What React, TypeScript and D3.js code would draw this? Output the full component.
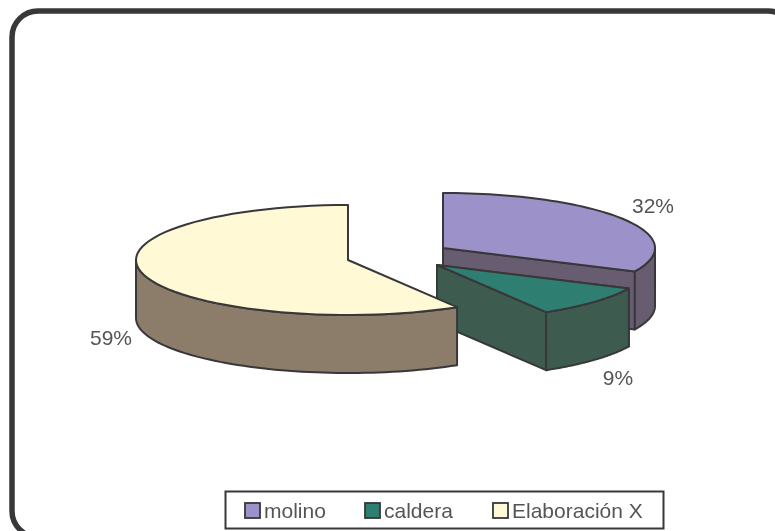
import React from "react";
import * as d3 from "d3";

const categories = ["molino", "caldera", "Elaboración X"];
const shares = [32, 9.4, 58.6];
const topColors = ["#9c91c8", "#2f7f71", "#fff9d5"];
const wallColors = ["#685c70", "#3c5c50", "#8c7b6a"];
const labels = ["32%", "9%", "59%"];
const labelPos: [number, number][] = [[653, 205], [618, 377], [111, 337]];
const centers: [number, number][] = [[443, 248], [437, 265], [348, 260]];
const legendSwatchX = [245, 365, 493];

const RX = 212, RY = 55, DEPTH = 58;
const INK = "#38383a";
const FONT = "'Liberation Sans', Arial, sans-serif";

const arcs = d3.pie<number>().sort(null)(shares);
const pt = (c: [number, number], a: number, dy = 0): [number, number] => [
  c[0] + RX * Math.sin(a),
  c[1] - RY * Math.cos(a) + dy,
];

function ellipsePts(c: [number, number], a0: number, a1: number, dy = 0) {
  const out: [number, number][] = [];
  const n = 64;
  for (let i = 0; i <= n; i++) out.push(pt(c, a0 + ((a1 - a0) * i) / n, dy));
  return out;
}
const line = d3.line();

export default function App() {
  const m = arcs[0], ca = arcs[1], e = arcs[2];
  const cm = centers[0], cc = centers[1], ce = centers[2];
  const rim = Math.PI / 2;

  const mInner = [cm, pt(cm, m.endAngle), pt(cm, m.endAngle, DEPTH), [cm[0], cm[1] + DEPTH]] as [number, number][];
  const mOuter = [...ellipsePts(cm, rim, m.endAngle), ...ellipsePts(cm, m.endAngle, rim, DEPTH)];
  const mTop = [cm, ...ellipsePts(cm, m.startAngle, m.endAngle)];
  const cFar = [cc, pt(cc, ca.startAngle), pt(cc, ca.startAngle, DEPTH), [cc[0], cc[1] + DEPTH]] as [number, number][];
  const cInner = [cc, pt(cc, ca.endAngle), pt(cc, ca.endAngle, DEPTH), [cc[0], cc[1] + DEPTH]] as [number, number][];
  const cOuter = [...ellipsePts(cc, ca.startAngle, ca.endAngle), ...ellipsePts(cc, ca.endAngle, ca.startAngle, DEPTH)];
  const cTop = [cc, ...ellipsePts(cc, ca.startAngle, ca.endAngle)];
  const eOuter = [...ellipsePts(ce, e.startAngle, Math.PI * 1.5), ...ellipsePts(ce, Math.PI * 1.5, e.startAngle, DEPTH)];
  const eTop = [ce, ...ellipsePts(ce, e.startAngle, e.endAngle)];

  const poly = (pts: [number, number][], fill: string, key: string) => (
    <path key={key} d={line(pts)! + "Z"} fill={fill} stroke={INK} strokeWidth={2} strokeLinejoin="round" />
  );

  return (
    <svg width={775} height={531} style={{ position: "fixed", left: 0, top: 0, background: "#fff" }}>
      <defs>
        <filter id="soft" x="-5%" y="-5%" width="110%" height="110%">
          <feGaussianBlur stdDeviation="0.6" />
        </filter>
      </defs>
      <g filter="url(#soft)">
        <rect x={12} y={11} width={782} height={526} rx={26} fill="#fff" stroke={INK} strokeWidth={5.5} />
        {poly(mInner, wallColors[0], "mi")}
        {poly(mOuter, wallColors[0], "mo")}
        {poly(mTop, topColors[0], "mt")}
        {poly(cFar, wallColors[1], "cf")}
        {poly(cInner, wallColors[1], "ci")}
        {poly(cOuter, wallColors[1], "co")}
        {poly(cTop, topColors[1], "ct")}
        {poly(eOuter, wallColors[2], "eo")}
        {poly(eTop, topColors[2], "et")}
        {labels.map((t, i) => (
          <text key={t} x={labelPos[i][0]} y={labelPos[i][1]} dy="0.36em" textAnchor="middle" fontFamily={FONT} fontSize={21} fill="#555">
            {t}
          </text>
        ))}
        <rect x={225.5} y={491.5} width={438} height={37} fill="#fff" stroke={INK} strokeWidth={2} />
        {categories.map((t, i) => (
          <g key={t}>
            <rect x={legendSwatchX[i]} y={503} width={15} height={15} fill={topColors[i]} stroke={INK} strokeWidth={1.8} />
            <text x={legendSwatchX[i] + 19} y={510} dy="0.36em" fontFamily={FONT} fontSize={21} fill="#555">
              {t}
            </text>
          </g>
        ))}
      </g>
    </svg>
  );
}
